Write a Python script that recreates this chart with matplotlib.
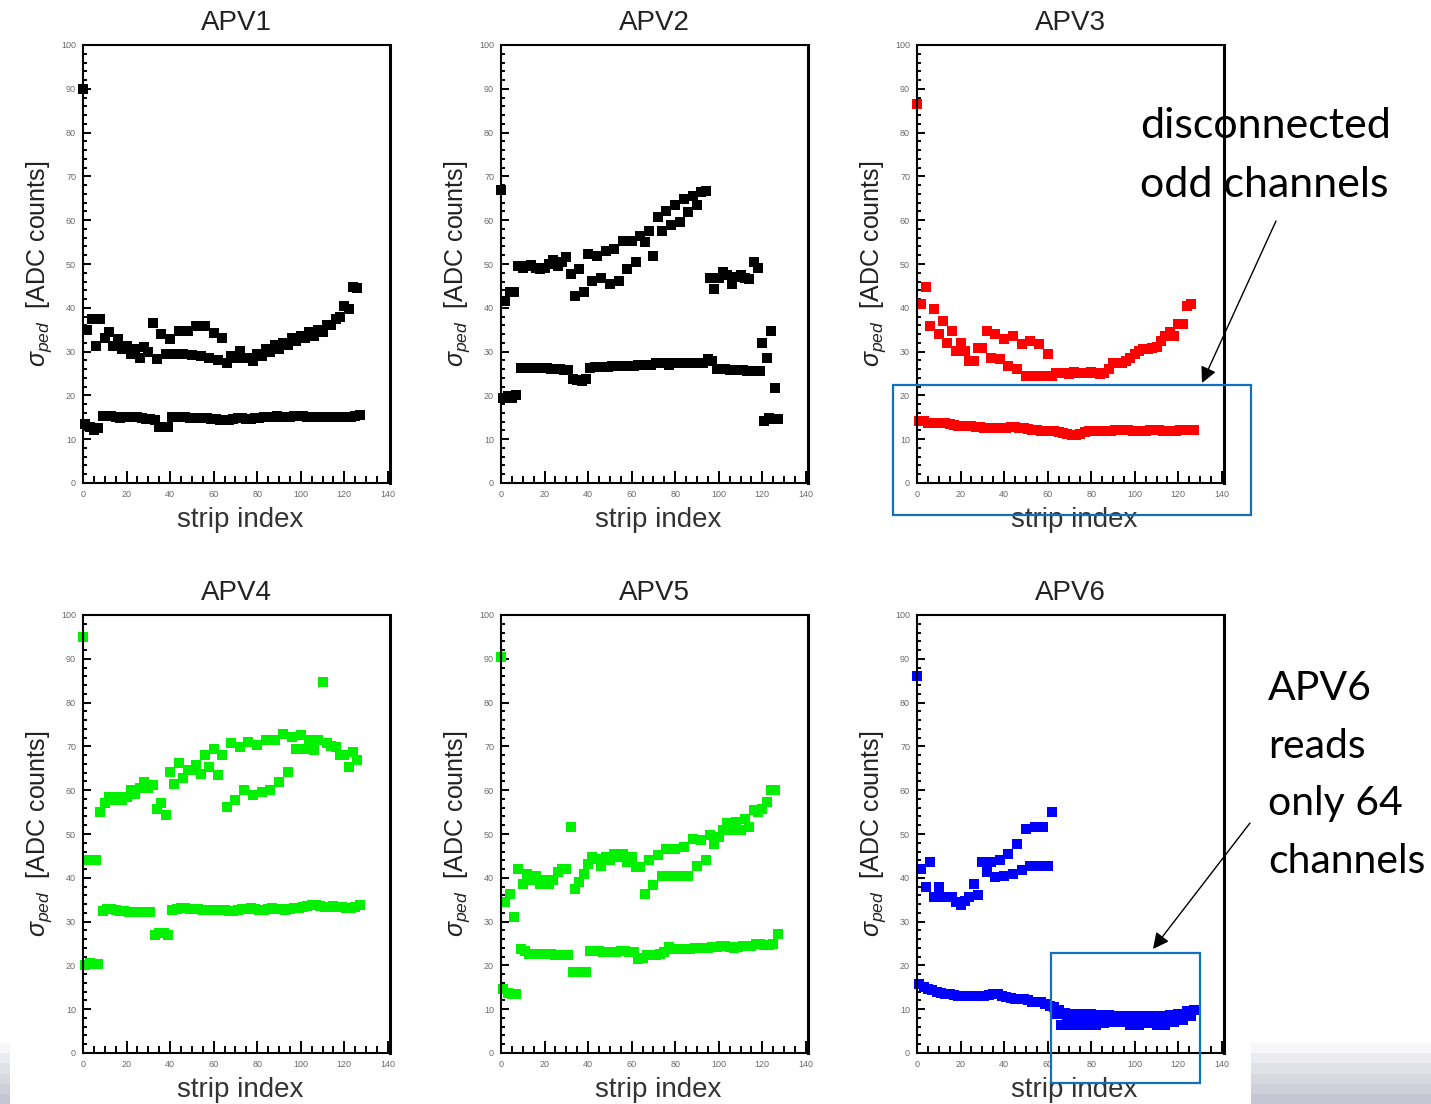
import numpy as np
import matplotlib
matplotlib.use('Agg')
import matplotlib.pyplot as plt
from matplotlib.patches import Rectangle
from matplotlib.ticker import MultipleLocator

plt.rcParams['font.family'] = ['Liberation Sans', 'DejaVu Sans']
plt.rcParams['mathtext.fontset'] = 'custom'
plt.rcParams['mathtext.rm'] = 'Liberation Sans'
plt.rcParams['mathtext.it'] = 'Liberation Sans:italic'

# ---------------- data ----------------
titles = ['APV1', 'APV2', 'APV3', 'APV4', 'APV5', 'APV6']
colors = ['#000000', '#000000', '#ff0000', '#00f000', '#00f000', '#0000ff']
x_label = 'strip index'
y_label = r'$\sigma_{ped}$  [ADC counts]'

strip_a = np.arange(0, 128, 4)    # connected channels, first sub-group
strip_b = np.arange(2, 128, 4)    # connected channels, second sub-group
strip_lo = np.arange(1, 128, 2)   # disconnected channels

apv1_up_a = [90, 37.4, 37.4, 34.4, 32.8, 31.3, 30.5, 31.0, 36.6, 34.0, 32.8, 34.7, 34.7, 35.9, 35.9, 34.3,
             33.2, 29.0, 30.2, 28.5, 29.5, 30.5, 31.5, 32.0, 33.0, 33.5, 34.5, 35.0, 36.0, 37.5, 40.5, 44.7]
apv1_up_b = [35.0, 31.3, 33.0, 31.3, 30.5, 29.5, 28.6, 29.8, 28.2, 29.4, 29.4, 29.4, 29.2, 29.0, 28.5, 28.0,
             27.5, 28.5, 28.5, 27.8, 29.0, 30.0, 30.5, 31.5, 32.5, 33.0, 33.5, 34.5, 36.0, 38.0, 39.7, 44.5]
apv1_lo = [13.5, 12.8, 12.2, 12.6,
           15.3, 15.3, 15.2, 15.0, 14.8, 15.0, 15.0, 15.0, 15.0, 14.8, 14.5, 14.5, 14.3,
           12.8, 12.8, 12.8,
           15.0, 15.0, 15.0, 15.0, 14.9, 14.8, 14.8, 14.8, 14.8, 14.6,
           14.5, 14.3, 14.3, 14.3, 14.6, 14.8, 14.8, 14.6, 14.6, 14.8,
           14.9, 15.0, 15.0, 15.1, 15.2, 15.0, 15.0, 15.1, 15.2, 15.3,
           15.2, 15.0, 15.0, 15.0, 15.0, 15.1, 15.1, 15.0, 15.0, 15.0,
           15.0, 15.1, 15.3, 15.6]

apv2_up_a = [67.0, 43.5, 49.5, 49.5, 49.2, 49.0, 51.0, 50.5, 47.7, 48.9, 52.3, 51.9, 53.0, 53.4, 55.3, 55.3,
             56.5, 57.6, 60.7, 62.2, 63.4, 64.9, 65.6, 66.4, 46.9, 46.9, 47.5, 47.0, 46.9, 50.4, 32.0, 34.7]
apv2_up_b = [41.5, 43.5, 49.2, 49.8, 48.9, 50.0, 49.5, 51.5, 42.7, 43.5, 46.2, 46.9, 45.4, 46.2, 48.9, 50.4,
             55.0, 51.9, 57.6, 58.8, 59.5, 61.8, 63.4, 66.6, 44.3, 48.1, 45.5, 47.5, 46.5, 49.2, 28.6, 21.8]
apv2_lo = [19.5, 19.8, 19.5, 20.0,
           26.3, 26.3, 26.2, 26.3, 26.3, 26.2, 26.3, 26.0, 26.0, 26.0, 25.8, 25.8,
           23.8, 23.5, 23.3, 23.7,
           26.3, 26.5, 26.5, 26.5, 26.5, 26.6, 26.6, 26.6, 26.6, 26.8,
           26.8, 27.0, 27.0, 27.0, 27.0, 27.3, 27.5, 27.3, 27.0, 27.3,
           27.5, 27.5, 27.5, 27.3, 27.3, 27.3, 27.3,
           28.2, 27.8,
           26.0, 26.0, 26.0, 25.8, 25.8, 25.8, 25.8, 25.6, 25.6, 25.6,
           25.5, 14.1, 14.9, 14.5, 14.5]

apv3_up_a = [86.5, 44.7, 39.7, 37.0, 34.7, 32.0, 27.9, 30.9, 34.7, 34.0, 32.8, 33.6, 31.7, 32.4, 31.7, 29.4,
             25.2, 25.2, 25.4, 25.2, 25.4, 25.0, 26.0, 27.5, 27.8, 29.4, 30.5, 30.8, 32.4, 34.4, 36.3, 40.5]
apv3_up_b = [40.8, 35.9, 34.0, 32.0, 30.2, 30.2, 27.9, 30.9, 28.6, 28.2, 26.7, 26.0, 24.4, 24.4, 24.4, 24.4,
             25.2, 25.0, 25.2, 25.2, 25.2, 25.2, 27.5, 27.5, 28.5, 30.2, 30.5, 31.0, 33.6, 33.6, 36.3, 40.8]
apv3_lo = [14.1, 14.1, 13.7, 13.7, 13.7,
           13.7, 13.7, 13.5, 13.3, 13.1, 13.0, 13.0, 13.0, 12.8, 12.8,
           12.6, 12.6, 12.6, 12.6, 12.6, 12.6, 12.8, 12.8, 12.6, 12.6, 12.4, 12.2, 12.0, 11.8,
           11.8, 11.8, 11.8, 11.6, 11.5, 11.2, 11.0, 11.0, 11.3, 11.6,
           11.8, 11.8, 11.8, 11.8, 11.8, 11.8, 12.0, 12.0, 12.0, 12.0,
           11.8, 11.8, 11.8, 11.8, 12.0, 12.0, 12.0, 11.8, 11.8, 11.8,
           11.8, 12.0, 12.0, 12.2, 12.2]

apv4_up_a = [95.0, 44.0, 55.1, 58.5, 58.5, 58.5, 59.2, 61.9, 61.1, 57.0, 64.2, 66.1, 64.6, 65.7, 68.0, 69.5,
             68.0, 70.7, 69.9, 71.0, 70.3, 71.4, 71.4, 72.9, 72.2, 72.6, 71.4, 71.4, 70.7, 69.9, 68.0, 68.8]
apv4_up_b = [44.0, 44.0, 57.0, 57.7, 57.7, 60.0, 60.4, 60.4, 55.8, 54.3, 61.5, 62.7, 64.6, 63.8, 65.3, 63.4,
             56.2, 57.7, 60.0, 58.8, 59.6, 60.0, 61.9, 64.2, 69.5, 69.5, 69.1, 84.8, 70.0, 68.0, 65.3, 66.8]
apv4_lo = [20.0, 20.5, 20.4, 20.4,
           32.5, 32.8, 32.8, 32.6, 32.4, 32.4, 32.3, 32.3, 32.3, 32.3, 32.3, 32.3,
           27.0, 27.3, 27.3, 27.0,
           32.6, 32.8, 33.0, 33.0, 32.9, 32.8, 32.8, 32.7, 32.7, 32.7,
           32.6, 32.6, 32.6, 32.5, 32.4, 32.6, 32.8, 32.8, 33.0, 32.8,
           32.6, 32.7, 32.8, 33.0, 32.9, 32.8, 32.6, 32.8, 33.0, 33.2,
           33.4, 33.6, 33.8, 33.8, 33.6, 33.4, 33.4, 33.6, 33.4, 33.4,
           33.2, 33.2, 33.4, 33.7]

apv5_up_a = [90.5, 36.4, 42.1, 40.9, 40.5, 39.4, 39.4, 42.1, 51.6, 39.0, 43.2, 44.4, 44.7, 45.5, 45.5, 44.7,
             42.5, 44.0, 45.1, 46.6, 46.6, 47.0, 48.9, 48.6, 49.7, 49.3, 52.4, 52.7, 53.5, 55.4, 55.8, 60.0]
apv5_up_b = [34.5, 31.0, 38.6, 39.4, 38.6, 38.6, 41.3, 42.1, 37.5, 40.9, 44.7, 42.8, 44.0, 44.7, 43.6, 42.5,
             36.4, 38.3, 40.5, 40.5, 40.5, 40.5, 42.8, 44.0, 47.8, 50.8, 50.8, 50.8, 51.6, 55.0, 57.3, 60.0]
apv5_lo = [14.6, 13.8, 13.5, 13.5,
           23.8, 23.2, 22.6, 22.6, 22.6, 22.6, 22.5, 22.5, 22.3, 22.3, 22.3, 22.3,
           18.4, 18.4, 18.4, 18.4,
           23.4, 23.4, 23.2, 23.0, 23.0, 23.0, 23.0, 23.2, 23.2, 23.0, 23.0,
           21.5,
           21.8, 22.3, 22.3, 22.3, 22.6, 23.0,
           24.2, 23.8, 23.8, 23.8, 23.8, 23.8, 24.0, 24.0, 24.0, 24.0,
           24.2, 24.2, 24.5, 24.5, 24.2, 24.0, 24.2, 24.5, 24.5, 24.5,
           24.8, 24.8, 24.6, 24.6, 24.9, 27.2]

apv6_up_a = [86.0, 37.9, 35.6, 35.6, 35.6, 33.7, 35.6, 36.0, 41.3, 40.2, 40.5, 40.9, 41.7, 42.8, 42.8, 42.8,
             9.0, 9.2, 9.0, 8.8, 8.8, 8.6, 8.6, 8.5, 8.5, 8.5, 8.4, 8.4, 8.5, 8.6, 8.8, 9.5]
apv6_up_b = [42.1, 43.6, 37.9, 35.6, 34.5, 34.8, 38.6, 43.6, 43.6, 44.0, 45.5, 47.8, 51.2, 51.6, 51.6, 55.0,
             6.3, 6.3, 6.3, 6.5, 6.5, 6.8, 7.0, 7.0, 6.5, 6.5, 6.8, 6.5, 6.5, 7.0, 7.5, 8.5]
apv6_lo = [15.8, 15.0, 14.6, 14.3, 13.9, 13.7, 13.5, 13.5, 13.3, 13.1,
           13.1, 13.1, 13.1, 13.1, 13.1, 13.1, 13.3, 13.5, 13.5, 12.9,
           12.7, 12.5, 12.3, 12.3, 12.3, 12.0, 11.6, 11.6, 11.6, 11.3,
           10.8, 10.5,
           9.8, 9.0, 8.2, 7.5, 7.8, 8.5, 8.2, 7.6, 7.5, 7.8,
           8.2, 7.8, 7.6, 7.5, 7.5, 7.6, 7.8, 8.0, 7.5, 7.2,
           7.4, 7.6, 7.5, 7.2, 7.8, 8.0, 8.2, 8.5, 8.8, 8.8,
           9.2, 9.8]

note1_lines = ['disconnected', 'odd channels']
note2_lines = ['APV6', 'reads', 'only 64', 'channels']

# ---------------- figure ----------------
W, H = 1431, 1104
fig = plt.figure(figsize=(W / 100, H / 100), dpi=100)

panels = [
    (apv1_up_a, apv1_up_b, apv1_lo),
    (apv2_up_a, apv2_up_b, apv2_lo),
    (apv3_up_a, apv3_up_b, apv3_lo),
    (apv4_up_a, apv4_up_b, apv4_lo),
    (apv5_up_a, apv5_up_b, apv5_lo),
    (apv6_up_a, apv6_up_b, apv6_lo),
]

lefts = [83, 501, 917]
tops = [45, 615]
aw, ah = 307, 438

for i, (ua, ub, lo) in enumerate(panels):
    r, c = divmod(i, 3)
    l, t = lefts[c], tops[r]
    col = colors[i]
    ax = fig.add_axes([l / W, 1 - (t + ah) / H, aw / W, ah / H])
    for xs, ys in ((strip_lo, lo), (strip_b, ub), (strip_a, ua)):
        ax.plot(xs, ys, ls='none', marker='s', ms=7.4, mfc=col, mec=col, mew=0, clip_on=False)
    ax.set_xlim(0, 141)
    ax.set_ylim(0, 100)
    ax.xaxis.set_major_locator(MultipleLocator(20))
    ax.xaxis.set_minor_locator(MultipleLocator(5))
    ax.yaxis.set_major_locator(MultipleLocator(10))
    ax.yaxis.set_minor_locator(MultipleLocator(2))
    ax.tick_params(which='both', direction='in', top=False, right=False,
                   labelsize=6.5, labelcolor='#6a6a6a', width=1.4, color='black')
    ax.tick_params(axis='x', which='major', length=9, pad=5)
    ax.tick_params(axis='x', which='minor', length=5)
    ax.tick_params(axis='y', which='major', length=6, pad=5)
    ax.tick_params(axis='y', which='minor', length=3)
    for s in ax.spines.values():
        s.set_linewidth(1.5)
    ax.spines['right'].set_linewidth(2.2)

    cx = l + aw / 2
    fig.text(cx / W, 1 - (t - 15) / H, titles[i], ha='center', va='baseline',
             fontsize=20, color='#222222')
    fig.text((cx + 4) / W, 1 - (t + ah + 44) / H, x_label, ha='center', va='baseline',
             fontsize=20, color='#333333')
    fig.text((l - 44) / W, 1 - (t + ah / 2) / H, y_label, rotation=90, ha='center', va='center',
             fontsize=18, color='#222222')

# ---------------- overlay (slide annotations) ----------------
ov = fig.add_axes([0, 0, 1, 1], zorder=10)
ov.set_xlim(0, W)
ov.set_ylim(H, 0)
ov.axis('off')
ov.patch.set_alpha(0)

box_col = '#1171BE'
ov.add_patch(Rectangle((893, 385), 358, 130, fill=False, ec=box_col, lw=1.6))
ov.add_patch(Rectangle((1051, 953), 149, 130, fill=False, ec=box_col, lw=1.6))

arrow = dict(arrowstyle='-|>', color='black', lw=1.0, mutation_scale=24, shrinkA=0, shrinkB=0)
ov.annotate('', xy=(1202, 383), xytext=(1276, 221), arrowprops=arrow)
ov.annotate('', xy=(1153, 949), xytext=(1250, 823), arrowprops=arrow)

tfont = dict(family=['Lato', 'DejaVu Sans'], color='black', va='baseline', ha='left')
for k, line in enumerate(note1_lines):
    ov.text(1140, 138 + 59 * k, line, fontsize=31, **tfont)
for k, line in enumerate(note2_lines):
    ov.text(1268, 700 + 57.7 * k, line, fontsize=29.5, **tfont)

stripe_cols = ['#f7f7f9', '#ececf0', '#e1e2e8', '#d7d9e0', '#cdd0d9', '#c4c7d3']
sh = 61 / len(stripe_cols)
for k, cc in enumerate(stripe_cols):
    y0 = 1043 + k * sh
    ov.add_patch(Rectangle((1251, y0), 180, sh + 0.5, fc=cc, ec='none'))
    ov.add_patch(Rectangle((0, y0), 10, sh + 0.5, fc=cc, ec='none'))

fig.savefig('out.png', dpi=100)
